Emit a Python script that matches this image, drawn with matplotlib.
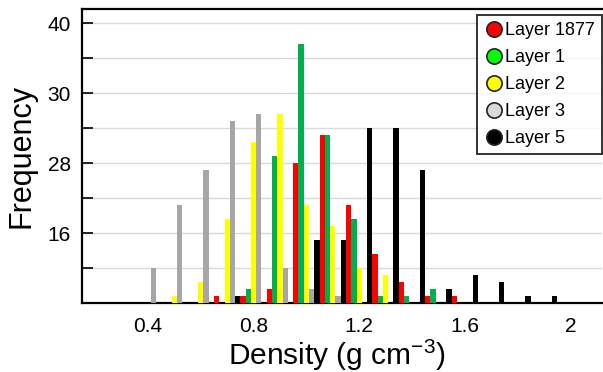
import matplotlib
matplotlib.use("Agg")
import matplotlib.pyplot as plt
from matplotlib.lines import Line2D
import numpy as np

plt.rcParams['font.family'] = ['Liberation Sans', 'DejaVu Sans']
plt.rcParams['mathtext.fontset'] = 'custom'
plt.rcParams['mathtext.rm'] = 'Liberation Sans'
plt.rcParams['mathtext.default'] = 'regular'

# Density bins (bin centres, g cm-3)
bin_centers = [0.38, 0.48, 0.58, 0.68, 0.78, 0.88, 0.98, 1.08, 1.18,
               1.28, 1.38, 1.48, 1.58, 1.68, 1.78, 1.88, 1.98]

series_names = ["Layer 5", "Layer 1877", "Layer 1", "Layer 2", "Layer 3"]
layer5    = [0, 0, 0, 0, 1, 0, 0, 9, 9, 25, 25, 19, 2, 4, 3, 1, 1]
layer1877 = [0, 0, 0, 1, 1, 2, 20, 24, 14, 7, 3, 1, 1, 0, 0, 0, 0]
layer1    = [0, 0, 0, 0, 2, 21, 37, 24, 12, 1, 1, 2, 0, 0, 0, 0, 0]
layer2    = [0, 1, 3, 12, 23, 27, 14, 11, 5, 4, 0, 0, 0, 0, 0, 0, 0]
layer3    = [5, 14, 19, 26, 27, 5, 2, 1, 0, 0, 0, 0, 0, 0, 0, 0, 0]

bar_colors = ["#000000", "#ff0000", "#00b050", "#ffff00", "#a6a6a6"]

legend_order = ["Layer 1877", "Layer 1", "Layer 2", "Layer 3", "Layer 5"]
legend_colors = ["#ff0000", "#00ff00", "#ffff00", "#d9d9d9", "#000000"]

y_ticks = [0, 5, 10, 15, 20, 25, 30, 35, 40]
y_ticklabels = ["", "", "16", "", "28", "", "30", "", "40"]
x_ticks = [0.4, 0.8, 1.2, 1.6, 2.0]
x_ticklabels = ["0.4", "0.8", "1.2", "1.6", "2"]

fig = plt.figure(figsize=(6.03, 3.72), dpi=100)
ax = fig.add_axes([82/603, 1 - 303.3/372, 520/603, 294.3/372])

data = [layer5, layer1877, layer1, layer2, layer3]
w = 0.02
x = np.array(bin_centers)
for i, (vals, c) in enumerate(zip(data, bar_colors)):
    ax.bar(x + (i - 2) * w, vals, width=w, color=c, linewidth=0, zorder=3)

ax.set_xlim(0.15, 2.12)
ax.set_ylim(0, 42)
ax.set_yticks(y_ticks)
ax.set_yticklabels(y_ticklabels)
ax.set_xticks(x_ticks)
ax.set_xticklabels(x_ticklabels)

ax.yaxis.grid(True, color="#d9d9d9", linewidth=1.0, zorder=0)
ax.set_axisbelow(True)

ax.tick_params(axis='y', direction='in', length=8, width=1.2, labelsize=15, pad=8)
ax.tick_params(axis='x', length=0, labelsize=15, pad=10)

for s in ['left', 'bottom', 'top']:
    ax.spines[s].set_linewidth(1.6)
ax.spines['right'].set_visible(False)

ax.set_xlabel("Density (g cm$^{-3}$)", fontsize=21.5, va='top')
ax.xaxis.set_label_coords(0.49, -0.117)
ax.set_ylabel("Frequency", fontsize=22, va='center')
ax.yaxis.set_label_coords((21 - 82) / 520, 0.5)

handles = [Line2D([0], [0], marker='o', linestyle='none', markersize=11,
                  markerfacecolor=c, markeredgecolor='#222222', markeredgewidth=1.2)
           for c in legend_colors]
leg = ax.legend(handles, legend_order, loc='upper right', bbox_to_anchor=(1.0, 0.98),
                fontsize=13, frameon=True, fancybox=False, handletextpad=0.05,
                handlelength=1.1, labelspacing=0.55, borderpad=0.4, borderaxespad=0)
leg.get_frame().set_edgecolor('black')
leg.get_frame().set_linewidth(1.4)

fig.savefig("out.png", dpi=100)
